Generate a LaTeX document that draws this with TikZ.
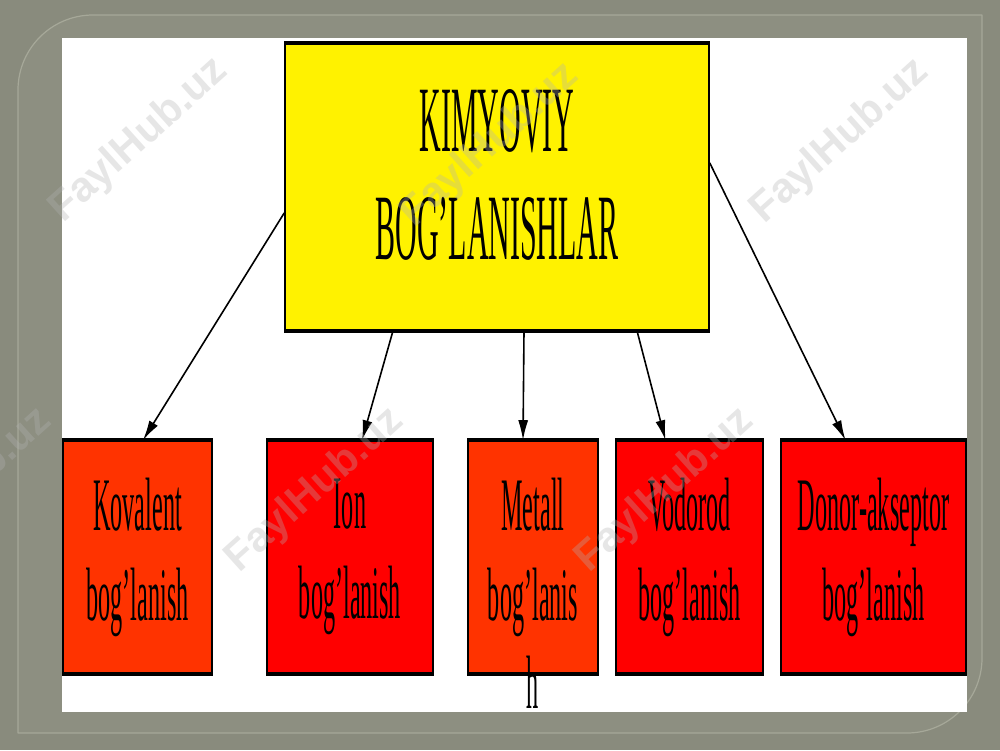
\documentclass[tikz,border=0pt]{standalone}
\usepackage{fontspec}
\setmainfont{Liberation Serif}[FakeStretch=0.32]
\newfontfamily\wmfont{Liberation Sans}
\usetikzlibrary{arrows.meta}
\definecolor{slidebg}{RGB}{137,139,125}
\definecolor{slideframe}{RGB}{141,143,129}
\definecolor{frameline}{RGB}{166,168,153}
\definecolor{orangered}{RGB}{255,51,0}

\begin{document}
\begin{tikzpicture}[x=0.5pt,y=-0.5pt,line cap=round,line join=round,
  box/.style={draw,line width=0.8pt,inner sep=0pt,align=center,
    font=\fontsize{37.8pt}{45pt}\selectfont},
  title/.style={box,fill=yellow,minimum width=212pt,minimum height=143pt,
    font=\fontsize{46.8pt}{54pt}\selectfont},
  kind/.style={box,minimum height=116pt},
  arr/.style={-{Latex[length=10pt,width=5pt]},line width=0.8pt},
  wm/.style={text=black!30,opacity=0.32,rotate=42,
    font=\wmfont\bfseries\fontsize{21pt}{21pt}\selectfont}]
\useasboundingbox (0,0) rectangle (1000,750);
\fill[slidebg] (0,0) rectangle (1000,750);
\filldraw[fill=slideframe,draw=frameline,line width=0.6pt]
  (18,733) -- (18,90) .. controls (18,48.6) and (51.6,15) .. (93,15) -- (982,15)
  -- (982,658) .. controls (982,699.4) and (948.4,733) .. (907,733) -- cycle;
\fill[white] (62,38) rectangle (967,712);
% boxes
\node[title] (top) at (497,187) {KIMYOVIY\\BOG’LANISHLAR\rule[-12pt]{0pt}{12pt}};
\node[kind,fill=orangered,minimum width=74.5pt] (kov) at (137.5,557) {Kovalent\\bog’lanish};
\node[kind,fill=red,minimum width=83pt] (ion) at (350,557) {Ion\\bog’lanish};
\node[kind,fill=orangered,minimum width=65pt,
  label={[inner sep=0pt,anchor=north,yshift=9pt,font=\fontsize{37.8pt}{45pt}\selectfont]below:h}]
  (met) at (533,557) {Metall\\bog’lanis};
\node[kind,fill=red,minimum width=73.5pt] (vod) at (689.5,557) {Vodorod\\bog’lanish};
\node[kind,fill=red,minimum width=92.5pt] (don) at (873.5,557) {Donor-akseptor\\bog’lanish};
\foreach \n in {top,kov,ion,met,vod,don}
  \draw[line width=2pt,line cap=butt] (\n.north west) -- (\n.north east) (\n.south west) -- (\n.south east);
% arrows
\draw[arr] ([yshift=-13pt]top.west) -- ([xshift=2.75pt]kov.north);
\draw[arr] ([xshift=-52pt]top.south) -- ([xshift=6pt]ion.north);
\draw[arr] ([xshift=13.5pt]top.south) -- ([xshift=-5pt]met.north);
\draw[arr] ([xshift=70pt]top.south) -- ([xshift=-12pt]vod.north);
\draw[arr] ([yshift=12pt]top.east) -- ([xshift=-14pt]don.north);
% watermark
\foreach \p [count=\i] in {(139,140),(490,145),(840,141),(-37,490),(315,490),(665,490)}
  \node[wm] (wm\i) at \p {FaylHub.uz};
\end{tikzpicture}
\end{document}
